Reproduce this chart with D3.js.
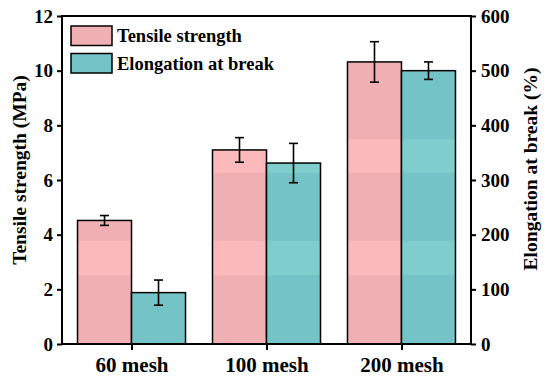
<!DOCTYPE html>
<html>
<head>
<meta charset="utf-8">
<script src="https://cdn.jsdelivr.net/npm/d3@7"></script>
<style>
  body { margin: 0; background: #fff; }
  text { font-family: "Liberation Serif", "Times New Roman", serif; font-weight: bold; }
</style>
</head>
<body>
<div id="chart"></div>
<script>
/* data */
const meshes = ["60 mesh", "100 mesh", "200 mesh"];
const tensile = [4.52, 7.1, 10.32];
const tensileErr = [0.18, 0.45, 0.74];
const elong = [94, 331, 500];
const elongErr = [23, 36, 16];
const yTicks = [0, 2, 4, 6, 8, 10, 12];
const y2Ticks = [0, 100, 200, 300, 400, 500, 600];

const W = 550, H = 378;
const margin = { top: 16, right: 79, bottom: 34, left: 62 };
const iw = W - margin.left - margin.right, ih = H - margin.top - margin.bottom;

const svg = d3.select("#chart").append("svg")
    .attr("width", W).attr("height", H);

/* stripey fills like the original figure (page coords) */
const defs = svg.append("defs");
const mkGrad = function(id, base, light){
    const g = defs.append("linearGradient").attr("id", id)
        .attr("gradientUnits", "userSpaceOnUse")
        .attr("x1", 0).attr("x2", 0).attr("y1", -margin.top).attr("y2", H - margin.top);
    const stops = [[0, base], [139, base], [139, light], [173, light], [173, base],
                   [241, base], [241, light], [275, light], [275, base], [H, base]];
    stops.forEach(s => g.append("stop").attr("offset", s[0] / H).attr("stop-color", s[1]));
};
mkGrad("gPink", "#F0AFB2", "#FCB9BB");
mkGrad("gTeal", "#74C4C7", "#7FCDCD");

const g = svg.append("g").attr("transform", `translate(${margin.left},${margin.top})`);

const x = d3.scalePoint().domain(meshes).range([0, iw]).padding(0.515);
const y = d3.scaleLinear().domain([0, 12]).range([ih, 0]);
const y2 = d3.scaleLinear().domain([0, 600]).range([ih, 0]);
const bw = 54;

/* bars */
const bars = g.append("g");
bars.selectAll(".ts").data(meshes).enter().append("rect")
    .attr("x", d => x(d) - bw).attr("width", bw)
    .attr("y", (d, i) => y(tensile[i])).attr("height", (d, i) => ih - y(tensile[i]))
    .attr("fill", "url(#gPink)").attr("stroke", "#000").attr("stroke-width", 1.5);
bars.selectAll(".el").data(meshes).enter().append("rect")
    .attr("x", d => x(d)).attr("width", bw)
    .attr("y", (d, i) => y2(elong[i])).attr("height", (d, i) => ih - y2(elong[i]))
    .attr("fill", "url(#gTeal)").attr("stroke", "#000").attr("stroke-width", 1.5);

/* error bars */
const errBar = function(cx, yTop, yBot){
    const e = g.append("g").attr("stroke", "#000").attr("stroke-width", 1.6);
    e.append("line").attr("x1", cx).attr("x2", cx).attr("y1", yTop).attr("y2", yBot);
    e.append("line").attr("x1", cx - 4.5).attr("x2", cx + 4.5).attr("y1", yTop).attr("y2", yTop);
    e.append("line").attr("x1", cx - 4.5).attr("x2", cx + 4.5).attr("y1", yBot).attr("y2", yBot);
};
meshes.forEach((m, i) => {
    errBar(x(m) - bw / 2, y(tensile[i] + tensileErr[i]), y(tensile[i] - tensileErr[i]));
    errBar(x(m) + bw / 2, y2(elong[i] + elongErr[i]), y2(elong[i] - elongErr[i]));
});

/* axes */
const styleAxis = function(sel){
    sel.select(".domain").remove();
    sel.selectAll(".tick line").attr("stroke", "#000").attr("stroke-width", 2);
    sel.selectAll(".tick text").attr("fill", "#000").style("font-size", "19px");
};
g.append("g").call(d3.axisLeft(y).tickValues(yTicks).tickSize(5).tickPadding(4)).call(styleAxis);
g.append("g").attr("transform", `translate(${iw},0)`)
    .call(d3.axisRight(y2).tickValues(y2Ticks).tickSize(5).tickPadding(5)).call(styleAxis);
g.append("g").attr("transform", `translate(0,${ih})`)
    .call(d3.axisBottom(x).tickSize(6).tickPadding(7)).call(styleAxis)
    .selectAll(".tick text").style("font-size", "21px");

/* frame */
g.append("rect").attr("width", iw).attr("height", ih)
    .attr("fill", "none").attr("stroke", "#000").attr("stroke-width", 2);

/* axis titles */
g.append("text").attr("transform", `translate(${-36},${ih / 2 - 10}) rotate(-90)`)
    .attr("text-anchor", "middle").style("font-size", "19.5px").text("Tensile strength (MPa)");
g.append("text").attr("transform", `translate(${iw + 66},${ih / 2 - 11}) rotate(-90)`)
    .attr("text-anchor", "middle").style("font-size", "19.5px").text("Elongation at break (%)");

/* legend */
const legItems = [["Tensile strength", "#F0AFB2"], ["Elongation at break", "#74C4C7"]];
const leg = g.append("g").attr("transform", "translate(9,10)");
legItems.forEach((it, i) => {
    leg.append("rect").attr("x", 0).attr("y", i * 27.5).attr("width", 41).attr("height", 19.5)
        .attr("fill", it[1]).attr("stroke", "#000").attr("stroke-width", 1.5);
    leg.append("text").attr("x", 46).attr("y", i * 27.5 + 16).style("font-size", "18.5px").text(it[0]);
});
</script>
</body>
</html>
